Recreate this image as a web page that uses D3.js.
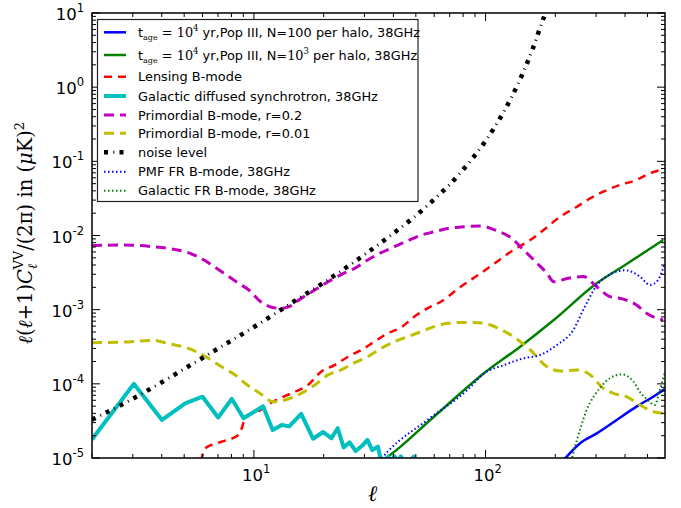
<!DOCTYPE html>
<html>
<head>
<meta charset="utf-8">
<script src="https://cdn.jsdelivr.net/npm/d3@7"></script>
<style>
  body { margin: 0; background: #fff; }
  svg { display: block; }
</style>
</head>
<body>
<script>
// values (ell, l(l+1)C_l/2pi in uK^2)
const popIII100Ell = [218, 256, 302, 368, 448, 529, 593];
const popIII100Val = [9.5e-6, 1.58e-5, 2.15e-5, 3.26e-5, 4.92e-5, 6.71e-5, 8.49e-5];

const popIII1000Ell = [36, 37.8, 60, 98.4, 141, 197, 302, 400, 495, 584];
const popIII1000Val = [9.4e-6, 1.04e-5, 3.63e-5, 1.39e-4, 3.17e-4, 7.26e-4, 2.27e-3, 4.0e-3, 6.18e-3, 8.69e-3];

const lensEll = [5.9, 6.16, 7.26, 8.57, 9.0, 9.15, 10.4, 12.1, 14.5, 17.1, 19.5, 22.3, 25.5, 29.1, 33.1, 37.8, 43.1, 49.2, 56.1, 64.1, 78.1, 95.2, 112, 132, 156, 178, 210, 248, 283, 322, 380, 448, 512, 584];
const lensVal = [9e-6, 1.35e-5, 1.66e-5, 2.04e-5, 2.96e-5, 3.61e-5, 4.22e-5, 5.74e-5, 7.46e-5, 9.64e-5, 1.46e-4, 1.79e-4, 2.32e-4, 2.86e-4, 3.7e-4, 4.8e-4, 5.75e-4, 8.03e-4, 1.04e-3, 1.28e-3, 2.04e-3, 3.09e-3, 4.44e-3, 6.38e-3, 8.69e-3, 1.19e-2, 1.79e-2, 2.44e-2, 3.18e-2, 3.9e-2, 4.8e-2, 5.6e-2, 6.9e-2, 7.82e-2];

const synchEll = [2, 3.03, 4.01, 5.05, 6.0, 7.01, 8.02, 9.02, 10.95, 12.05, 13.2, 14.2, 16.0, 18.0, 19.9, 21.6, 23.0, 24.4, 25.9, 27.5, 29.3, 30.9, 32.4, 34.3, 35.4, 36.5, 38, 39, 40.4, 42, 43.1, 45, 49, 50];
const synchVal = [1.78e-5, 1.0e-4, 3.26e-5, 5.47e-5, 6.71e-5, 3.52e-5, 6.28e-5, 3.43e-5, 4.98e-5, 2.39e-5, 2.79e-5, 2.67e-5, 3.93e-5, 1.82e-5, 2.24e-5, 1.85e-5, 2.52e-5, 1.39e-5, 1.63e-5, 1.24e-5, 1.46e-5, 1.75e-5, 1.28e-5, 1.42e-5, 9e-6, 9e-6, 1.04e-5, 9e-6, 1.05e-5, 9e-6, 1.05e-5, 8e-6, 1.04e-5, 8e-6];

const primR02Ell = [2, 2.74, 3.68, 4.35, 5.04, 5.85, 6.67, 7.6, 8.68, 9.6, 10.6, 11.9, 13.1, 14.0, 16.0, 18.3, 20.9, 23.8, 27.2, 31.0, 35.4, 40.4, 46.1, 52.6, 60.0, 68.5, 78.1, 95.2, 112.3, 128, 146, 167, 184, 197, 228, 264, 302, 344, 393, 448, 495, 584];
const primR02Val = [7.3e-3, 7.45e-3, 7.06e-3, 6.64e-3, 6.05e-3, 5.02e-3, 3.88e-3, 2.94e-3, 2.22e-3, 1.8e-3, 1.31e-3, 1.08e-3, 1.04e-3, 1.08e-3, 1.42e-3, 1.84e-3, 2.38e-3, 2.97e-3, 3.61e-3, 4.68e-3, 5.86e-3, 7.06e-3, 8.51e-3, 1.01e-2, 1.12e-2, 1.24e-2, 1.3e-2, 1.34e-2, 1.15e-2, 9.46e-3, 6.38e-3, 4.22e-3, 3.09e-3, 2.38e-3, 2.65e-3, 2.79e-3, 2.04e-3, 1.5e-3, 1.39e-3, 1.16e-3, 8.93e-4, 7.26e-4];

const primR001Ell = [2, 2.74, 3.68, 4.35, 4.96, 5.65, 6.46, 7.36, 8.4, 8.97, 10.6, 12.1, 13.3, 15.5, 18.3, 20.9, 23.8, 27.2, 31.0, 35.4, 40.4, 46.1, 52.6, 60.0, 68.5, 78.1, 87.8, 98.4, 116, 132, 156, 184, 210, 248, 283, 322, 356, 406, 464, 529, 584];
const primR001Val = [3.59e-4, 3.66e-4, 3.86e-4, 3.44e-4, 3.17e-4, 2.71e-4, 2.14e-4, 1.65e-4, 1.28e-4, 1.07e-4, 7.46e-5, 5.74e-5, 5.93e-5, 7.08e-5, 9.64e-5, 1.32e-4, 1.54e-4, 1.93e-4, 2.32e-4, 3.01e-4, 3.7e-4, 4.32e-4, 5.05e-4, 5.9e-4, 6.55e-4, 6.72e-4, 6.72e-4, 6.55e-4, 5.43e-4, 4.32e-4, 2.86e-4, 1.7e-4, 1.49e-4, 1.54e-4, 1.32e-4, 8.71e-5, 7.46e-5, 6.71e-5, 5.19e-5, 4.22e-5, 4.01e-5];

const noiseEll = [2, 3, 4, 5, 7, 10, 15, 20, 30, 40, 50, 60, 70, 80, 100, 120, 140, 160, 175, 182, 190];
const noiseVal = [3.29e-5, 6.3e-5, 1.05e-4, 1.59e-4, 2.99e-4, 5.84e-4, 1.31e-3, 2.31e-3, 5.5e-3, 1.07e-2, 1.85e-2, 3.07e-2, 4.87e-2, 7.71e-2, 0.189, 0.469, 1.22, 3.33, 7.45, 10.5, 20];

const pmfEll = [34.7, 37.8, 56.1, 83.4, 98.4, 120, 146, 172, 203, 239, 264, 302, 344, 400, 464, 512, 555, 593];
const pmfVal = [9e-6, 1.22e-5, 3.26e-5, 8.26e-5, 1.38e-4, 1.79e-4, 2.21e-4, 2.45e-4, 3.34e-4, 5.32e-4, 9.91e-4, 2.12e-3, 2.98e-3, 3.4e-3, 2.79e-3, 2.15e-3, 2.52e-3, 4.22e-3];

const galFrEll = [234, 248, 273, 312, 344, 387, 433, 464, 495, 538, 565, 593];
const galFrVal = [9e-6, 1.75e-5, 4.43e-5, 8.79e-5, 1.19e-4, 1.34e-4, 1.09e-4, 7.76e-5, 6.25e-5, 5.19e-5, 8.26e-5, 1.39e-4];

const yTickExps = [1, 0, -1, -2, -3, -4, -5];
const xTickExps = [1, 2];

const W = 681, H = 508;
const m = { left: 92, right: 665, top: 13, bottom: 458 };

const x = d3.scaleLog().domain([2, 595]).range([m.left, m.right]);
const y = d3.scaleLog().domain([1e-5, 10]).range([m.bottom, m.top]);

const svg = d3.select("body").append("svg")
  .attr("width", W).attr("height", H)
  .style("font-family", "'DejaVu Sans', sans-serif");

svg.append("defs").append("clipPath").attr("id", "plotclip")
  .append("rect")
  .attr("x", m.left).attr("y", m.top)
  .attr("width", m.right - m.left).attr("height", m.bottom - m.top);

// series, in legend order; "ticks" adds the thin mark between the dots of the noise line
const series = [
  { ell: popIII100Ell, val: popIII100Val, color: "#0000ff", width: 2.5, dash: null, smooth: true },
  { ell: popIII1000Ell, val: popIII1000Val, color: "#008000", width: 2.5, dash: null, smooth: true },
  { ell: lensEll, val: lensVal, color: "#ff0000", width: 2.5, dash: "8,6", smooth: true },
  { ell: synchEll, val: synchVal, color: "#00bfbf", width: 4, dash: null, smooth: false },
  { ell: primR02Ell, val: primR02Val, color: "#bf00bf", width: 3, dash: "10,6", smooth: true },
  { ell: primR001Ell, val: primR001Val, color: "#bfbf00", width: 3, dash: "10,6", smooth: true },
  { ell: noiseEll, val: noiseVal, color: "#000000", width: 4.5, dash: "4,11.5", smooth: true,
    ticks: { width: 3, dash: "1,14.5", offset: -9.3 } },
  { ell: pmfEll, val: pmfVal, color: "#0000ff", width: 2, dash: "1.5,2.5", smooth: true },
  { ell: galFrEll, val: galFrVal, color: "#008000", width: 2, dash: "1.5,2.5", smooth: true }
];

const plot = svg.append("g").attr("clip-path", "url(#plotclip)");

function strokeIt(sel, s) {
  sel.attr("fill", "none")
    .attr("stroke", s.color)
    .attr("stroke-width", s.width)
    .attr("stroke-dasharray", s.dash)
    .attr("stroke-linejoin", "round");
  if (s.ticks) {
    const t = d3.select(sel.node().parentNode).append(() => sel.node().cloneNode());
    t.attr("stroke-width", s.ticks.width)
      .attr("stroke-dasharray", s.ticks.dash)
      .attr("stroke-dashoffset", s.ticks.offset);
  }
}

series.forEach(s => {
  const pts = s.ell.map((e, i) => [e, s.val[i]]);
  const line = d3.line()
    .x(d => x(d[0])).y(d => y(d[1]))
    .curve(s.smooth ? d3.curveMonotoneX : d3.curveLinear);
  strokeIt(plot.append("path").datum(pts).attr("d", line), s);
});

// frame
svg.append("rect")
  .attr("x", m.left).attr("y", m.top)
  .attr("width", m.right - m.left).attr("height", m.bottom - m.top)
  .attr("fill", "none").attr("stroke", "#000").attr("stroke-width", 1.5);

// ticks (inward, all four sides)
const isMajor = v => Math.abs(Math.log10(v) - Math.round(Math.log10(v))) < 1e-9;
const tickG = svg.append("g").attr("stroke", "#000").attr("stroke-width", 1);
x.ticks().filter(v => v >= 2 && v <= 595).forEach(v => {
  const len = isMajor(v) ? 8 : 4;
  const px = x(v);
  tickG.append("line").attr("x1", px).attr("x2", px).attr("y1", m.bottom).attr("y2", m.bottom - len);
  tickG.append("line").attr("x1", px).attr("x2", px).attr("y1", m.top).attr("y2", m.top + len);
});
y.ticks().forEach(v => {
  const len = isMajor(v) ? 8 : 4;
  const py = y(v);
  tickG.append("line").attr("x1", m.left).attr("x2", m.left + len).attr("y1", py).attr("y2", py);
  tickG.append("line").attr("x1", m.right).attr("x2", m.right - len).attr("y1", py).attr("y2", py);
});

// tick labels
yTickExps.forEach(e => {
  const t = svg.append("text")
    .attr("x", 84).attr("y", y(Math.pow(10, e)) + 7)
    .attr("text-anchor", "end")
    .attr("font-size", 16.5).attr("fill", "#000");
  t.append("tspan").text("10");
  t.append("tspan").attr("dy", -8).attr("font-size", 11.5).text(e < 0 ? "-" + (-e) : String(e));
});
xTickExps.forEach(e => {
  const t = svg.append("text")
    .attr("x", x(Math.pow(10, e)) - 12).attr("y", 481)
    .attr("font-size", 16.5).attr("fill", "#000");
  t.append("tspan").text("10");
  t.append("tspan").attr("dy", -8).attr("font-size", 11.5).text(String(e));
});

// axis labels
svg.append("text")
  .attr("x", (m.left + m.right) / 2 - 6).attr("y", 501)
  .attr("text-anchor", "middle")
  .attr("font-family", "'DejaVu Serif', serif").attr("font-style", "italic")
  .attr("font-size", 22).text("ℓ");

const yl = svg.append("text")
  .attr("transform", "translate(32,233) rotate(-90)")
  .attr("text-anchor", "middle")
  .attr("font-family", "'DejaVu Serif', serif")
  .attr("font-size", 19.5).attr("fill", "#000");
yl.append("tspan").attr("font-style", "italic").text("ℓ");
yl.append("tspan").text("(");
yl.append("tspan").attr("font-style", "italic").text("ℓ");
yl.append("tspan").text("+1)");
yl.append("tspan").attr("font-style", "italic").text("C");
yl.append("tspan").attr("font-style", "italic").attr("font-size", 13).attr("dy", 5).text("ℓ");
yl.append("tspan").attr("font-size", 13).attr("dx", -6).attr("dy", -14).text("VV");
yl.append("tspan").attr("dy", 9).text("/(2π)  in  (");
yl.append("tspan").attr("font-style", "italic").text("μ");
yl.append("tspan").text("K)");
yl.append("tspan").attr("font-size", 13).attr("dy", -8).text("2");

// legend
const legendRowsY = [32.3, 55, 76.7, 96, 115, 133.3, 152.3, 171.7, 190.7];
const lg = svg.append("g");
lg.append("rect")
  .attr("x", 97.5).attr("y", 19.5).attr("width", 320.5).attr("height", 182)
  .attr("fill", "#fff").attr("stroke", "#222").attr("stroke-width", 1.2);

series.forEach((s, i) => {
  const ly = legendRowsY[i];
  strokeIt(lg.append("line")
    .attr("x1", 104).attr("x2", 126).attr("y1", ly).attr("y2", ly), s);
});

function legendText(i) {
  return lg.append("text")
    .attr("x", 138).attr("y", legendRowsY[i] + 4.5)
    .attr("font-size", 12.9).attr("fill", "#000");
}
[0, 1].forEach(i => {
  const t = legendText(i);
  t.append("tspan").text("t");
  t.append("tspan").attr("font-family", "'DejaVu Serif', serif").attr("font-size", 8).attr("dy", 3).text("age");
  t.append("tspan").attr("font-family", "'DejaVu Serif', serif").attr("dy", -3).text(" = 10");
  t.append("tspan").attr("font-family", "'DejaVu Serif', serif").attr("font-size", 8.5).attr("dy", -6).text("4");
  t.append("tspan").attr("dy", 6).text(" yr,Pop III, N=" + (i === 0 ? "100" : ""));
  if (i === 1) {
    t.append("tspan").attr("font-family", "'DejaVu Serif', serif").text("10");
    t.append("tspan").attr("font-family", "'DejaVu Serif', serif").attr("font-size", 8.5).attr("dy", -6).text("3");
    t.append("tspan").attr("dy", 6).text(" per halo, 38GHz");
  } else {
    t.append("tspan").text(" per halo, 38GHz");
  }
});
const plainLabels = [
  "Lensing B-mode",
  "Galactic diffused synchrotron, 38GHz",
  "Primordial B-mode, r=0.2",
  "Primordial B-mode, r=0.01",
  "noise level",
  "PMF FR B-mode, 38GHz",
  "Galactic FR B-mode, 38GHz"
];
plainLabels.forEach((txt, k) => legendText(k + 2).text(txt));
</script>
</body>
</html>
